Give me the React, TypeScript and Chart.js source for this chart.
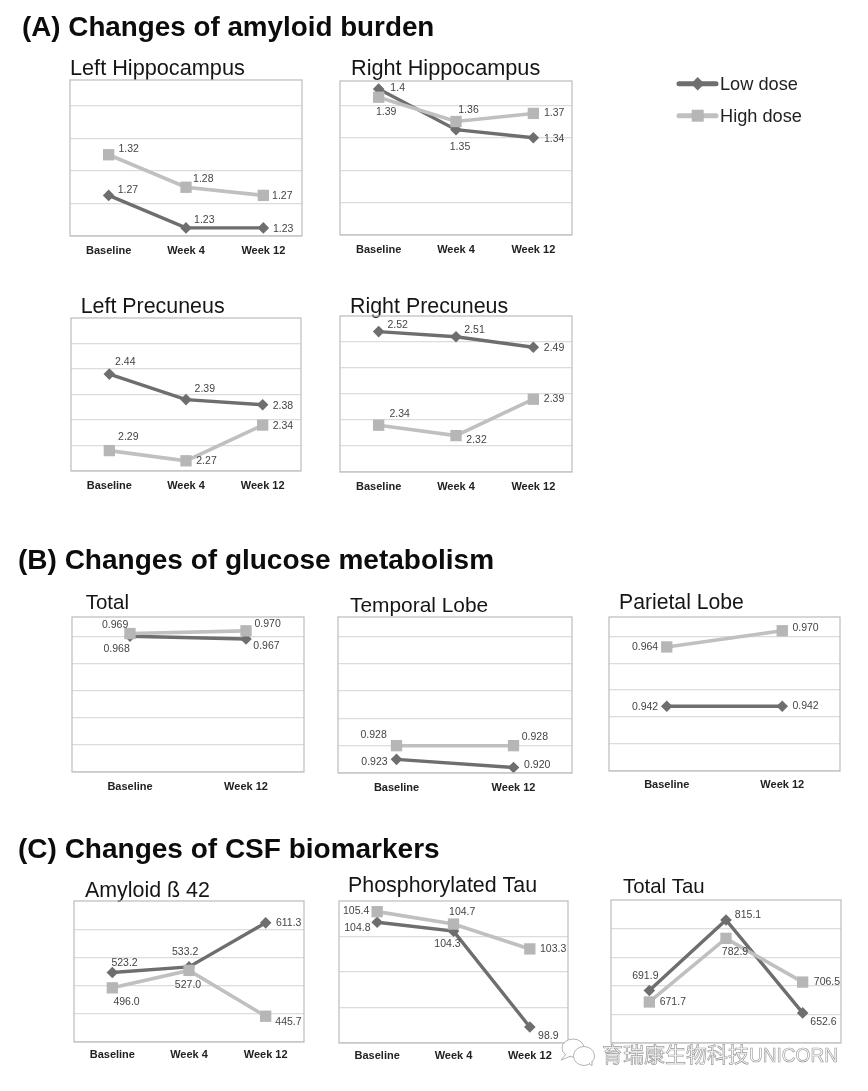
import React, { useEffect, useRef } from "react";
import { Chart, registerables } from "chart.js";

Chart.register(...registerables);

const threePoints = ["Baseline", "Week 4", "Week 12"];
const twoPoints = ["Baseline", "Week 12"];

const leftHippocampusLow = [1.27, 1.23, 1.23];
const leftHippocampusHigh = [1.32, 1.28, 1.27];
const rightHippocampusLow = [1.4, 1.35, 1.34];
const rightHippocampusHigh = [1.39, 1.36, 1.37];
const leftPrecuneusLow = [2.44, 2.39, 2.38];
const leftPrecuneusHigh = [2.29, 2.27, 2.34];
const rightPrecuneusLow = [2.52, 2.51, 2.49];
const rightPrecuneusHigh = [2.34, 2.32, 2.39];
const totalLow = [0.968, 0.967];
const totalHigh = [0.969, 0.97];
const temporalLow = [0.923, 0.92];
const temporalHigh = [0.928, 0.928];
const parietalLow = [0.942, 0.942];
const parietalHigh = [0.964, 0.97];
const amyloidLow = [523.2, 533.2, 611.3];
const amyloidHigh = [496.0, 527.0, 445.7];
const pTauLow = [104.8, 104.3, 98.9];
const pTauHigh = [105.4, 104.7, 103.3];
const tTauLow = [691.9, 815.1, 652.6];
const tTauHigh = [671.7, 782.9, 706.5];

const hippocampusTicks = [1.22, 1.26, 1.3, 1.34, 1.38];
const precuneusTicks = [2.25, 2.3, 2.35, 2.4, 2.45, 2.5];
const glucoseTicks = [0.918, 0.928, 0.938, 0.948, 0.958, 0.968];
const amyloidTicks = [400, 450, 500, 550, 600];
const pTauTicks = [98, 100, 102, 104];
const tTauTicks = [600, 650, 700, 750, 800];

const LOW = "#6e6e6e";
const HIGH = "#c0c0c0";
const FONT = '"Liberation Sans", Arial, sans-serif';
const PAD = 20;
const HEAD = 40;
const FOOT = 30;

type Offs = number[][];
type Panel = {
  title: string; cats: string[]; low: number[]; high: number[];
  digits: number; ticks: number[]; min: number; max: number; tickPad: number;
  rect: number[]; titlePos: number[]; lowOff: Offs; highOff: Offs;
};

const panels: Panel[] = [
  { title: "Left Hippocampus", cats: threePoints, low: leftHippocampusLow, high: leftHippocampusHigh, digits: 2, ticks: hippocampusTicks, min: 1.22, max: 1.412, tickPad: 8,
    rect: [70, 302, 80, 235.5], titlePos: [70, 75, 21.7],
    lowOff: [[19.3, -5.5], [18.3, -8], [19.8, 1]], highOff: [[20, -6], [17.3, -7.7], [19, 1]] },
  { title: "Right Hippocampus", cats: threePoints, low: rightHippocampusLow, high: rightHippocampusHigh, digits: 2, ticks: hippocampusTicks, min: 1.22, max: 1.41, tickPad: 8,
    rect: [339.7, 572.3, 81, 234.5], titlePos: [351, 74.5, 21.7],
    lowOff: [[19, -0.7], [4, 17.7], [20.8, 1]], highOff: [[7.5, 15.3], [12.5, -11.3], [20.8, 0]] },
  { title: "Left Precuneus", cats: threePoints, low: leftPrecuneusLow, high: leftPrecuneusHigh, digits: 2, ticks: precuneusTicks, min: 2.25, max: 2.55, tickPad: 8,
    rect: [70.7, 300.7, 317.7, 471.3], titlePos: [80.7, 313.3, 21.4],
    lowOff: [[16, -11.7], [18.8, -10], [20.2, 1]], highOff: [[19, -13.3], [20.5, 0.7], [20.2, 1]] },
  { title: "Right Precuneus", cats: threePoints, low: rightPrecuneusLow, high: rightPrecuneusHigh, digits: 2, ticks: precuneusTicks, min: 2.25, max: 2.55, tickPad: 8,
    rect: [340.3, 572, 316, 471.7], titlePos: [350, 313.3, 21.4],
    lowOff: [[19, -6.7], [18.5, -7], [20.7, 0.6]], highOff: [[21, -11], [20.5, 4.6], [20.7, 0.3]] },
  { title: "Total", cats: twoPoints, low: totalLow, high: totalHigh, digits: 3, ticks: glucoseTicks, min: 0.918, max: 0.9751, tickPad: 8,
    rect: [72, 303.7, 617, 772.3], titlePos: [85.7, 609.3, 20.5],
    lowOff: [[-13.4, 12.7], [20.5, 6.7]], highOff: [[-14.9, -8.4], [21.6, -6.4]] },
  { title: "Temporal Lobe", cats: twoPoints, low: temporalLow, high: temporalHigh, digits: 3, ticks: glucoseTicks, min: 0.918, max: 0.9751, tickPad: 8,
    rect: [338.3, 571.7, 617, 773.3], titlePos: [350, 611.7, 20.9],
    lowOff: [[-22, 2.3], [23.7, -2.7]], highOff: [[-22.9, -10.3], [21.4, -8.3]] },
  { title: "Parietal Lobe", cats: twoPoints, low: parietalLow, high: parietalHigh, digits: 3, ticks: glucoseTicks, min: 0.918, max: 0.9751, tickPad: 7.5,
    rect: [609.3, 840.3, 617, 771.3], titlePos: [619, 609, 21.2],
    lowOff: [[-21.7, 0.7], [23.3, -0.3]], highOff: [[-21.7, 0.3], [23.3, -2.3]] },
  { title: "Amyloid ß 42", cats: threePoints, low: amyloidLow, high: amyloidHigh, digits: 1, ticks: amyloidTicks, min: 400, max: 650, tickPad: 6.5,
    rect: [73.7, 303.7, 900.7, 1042], titlePos: [85, 896.7, 21.4],
    lowOff: [[12.2, -9.3], [-3.9, -14.4], [23, 0.6]], highOff: [[14.2, 14], [-1, 14.3], [22.8, 5.6]] },
  { title: "Phosphorylated Tau", cats: threePoints, low: pTauLow, high: pTauHigh, digits: 1, ticks: pTauTicks, min: 98, max: 106, tickPad: 6.5,
    rect: [338.7, 567.7, 900.7, 1042.7], titlePos: [348, 892.3, 21.4],
    lowOff: [[-19.8, 5.7], [-6, 13.3], [18.5, 8.7]], highOff: [[-21, -1], [8.7, -11.6], [23.3, 0]] },
  { title: "Total Tau", cats: threePoints, low: tTauLow, high: tTauHigh, digits: 1, ticks: tTauTicks, min: 600, max: 850, tickPad: 6.5,
    rect: [610.7, 841.3, 900.3, 1043.3], titlePos: [623, 892.7, 20.4],
    lowOff: [[-4, -14.3], [22, -4.7], [20.8, 9]], highOff: [[23.5, 0.3], [9, 14], [24.3, 0.3]] },
];

const headings = [
  { text: "(A) Changes of amyloid burden", x: 22, y: 36, size: 27.8 },
  { text: "(B) Changes of glucose metabolism", x: 18, y: 569, size: 28 },
  { text: "(C) Changes of CSF biomarkers", x: 18, y: 858, size: 28 },
];

function formatValue(v: number, digits: number) {
  if (v === 1.4) return "1.4";
  return v.toFixed(digits);
}

function PanelChart({ p }: { p: Panel }) {
  const ref = useRef<HTMLCanvasElement | null>(null);
  const [L, R, T, B] = p.rect;
  const cssLeft = Math.round(L) - PAD;
  const cssTop = Math.round(T) - HEAD;
  const w = Math.round(R) - Math.round(L) + PAD * 2;
  const h = Math.round(B) - Math.round(T) + HEAD + FOOT;

  useEffect(() => {
    const frame = {
      id: "frame",
      afterDraw(chart: any) {
        const { ctx, chartArea: a } = chart;
        ctx.save();
        ctx.strokeStyle = "#bcbcbc";
        ctx.lineWidth = 1.2;
        ctx.strokeRect(a.left, a.top, a.right - a.left, a.bottom - a.top);
        ctx.restore();
      },
      afterDatasetsDraw(chart: any) {
        const { ctx } = chart;
        ctx.save();
        ctx.font = `10.5px ${FONT}`;
        ctx.fillStyle = "#444";
        ctx.textAlign = "center";
        ctx.textBaseline = "middle";
        [p.high, p.low].forEach((vals, di) => {
          const meta = chart.getDatasetMeta(di);
          const offs = di === 0 ? p.highOff : p.lowOff;
          vals.forEach((v, i) => {
            const pt = meta.data[i];
            ctx.fillText(formatValue(v, p.digits), pt.x + offs[i][0], pt.y + offs[i][1]);
          });
        });
        ctx.font = `${p.titlePos[2]}px ${FONT}`;
        ctx.fillStyle = "#151515";
        ctx.textAlign = "left";
        ctx.textBaseline = "alphabetic";
        ctx.fillText(p.title, p.titlePos[0] - cssLeft, p.titlePos[1] - cssTop);
        ctx.restore();
      },
    };
    const chart = new Chart(ref.current as HTMLCanvasElement, {
      type: "line",
      data: {
        labels: p.cats,
        datasets: [
          { label: "High dose", data: p.high, borderColor: HIGH, backgroundColor: "#b6b6b6", borderWidth: 3.6,
            pointStyle: "rect", pointRadius: 8, pointBorderWidth: 0, order: 0, clip: false, tension: 0 },
          { label: "Low dose", data: p.low, borderColor: LOW, backgroundColor: LOW, borderWidth: 3.4,
            pointStyle: "rectRot", pointRadius: 5.8, pointBorderWidth: 0, order: 1, clip: false, tension: 0 },
        ],
      },
      options: {
        animation: false,
        responsive: false,
        layout: { padding: { left: PAD, right: PAD, top: HEAD, bottom: 0 } },
        plugins: { legend: { display: false }, tooltip: { enabled: false } },
        scales: {
          x: {
            offset: true,
            grid: { display: false, drawTicks: false },
            border: { display: false },
            afterFit(s: any) { s.height = FOOT; },
            ticks: { color: "#222", font: { family: FONT, size: 11, weight: "bold" }, padding: p.tickPad, maxRotation: 0, autoSkip: false },
          },
          y: {
            min: p.min,
            max: p.max,
            afterFit(s: any) { s.width = 0; },
            afterBuildTicks(s: any) { s.ticks = p.ticks.map((value) => ({ value })); },
            border: { display: false },
            grid: { color: "#dcdcdc", lineWidth: 1.2, drawTicks: false },
            ticks: { display: false },
          },
        },
      } as any,
      plugins: [frame],
    });
    return () => chart.destroy();
  }, []);

  return (
    <canvas
      ref={ref}
      width={w}
      height={h}
      style={{ position: "absolute", left: cssLeft, top: cssTop, width: w, height: h }}
    />
  );
}

function Overlay() {
  return (
    <svg width={868} height={1091} style={{ position: "absolute", left: 0, top: 0, pointerEvents: "none" }}>
      {headings.map((t) => (
        <text key={t.text} x={t.x} y={t.y} fontFamily={FONT} fontWeight="bold" fontSize={t.size} fill="#0c0c0c">{t.text}</text>
      ))}
      <line x1={679} y1={83.7} x2={716} y2={83.7} stroke={LOW} strokeWidth={5} strokeLinecap="round" />
      <polygon points="697.7,77 704.4,83.7 697.7,90.4 691,83.7" fill={LOW} />
      <text x={720} y={90} fontFamily={FONT} fontSize={18.2} fill="#222">Low dose</text>
      <line x1={679} y1={115.7} x2={716} y2={115.7} stroke={HIGH} strokeWidth={5} strokeLinecap="round" />
      <rect x={691.7} y={109.7} width={12} height={12} fill="#b6b6b6" />
      <text x={720} y={122} fontFamily={FONT} fontSize={18.2} fill="#222">High dose</text>

      <rect x={598} y={1044.5} width={250} height={26} fill="#fff" />
      <g fill="#fff" stroke="#aaa" strokeWidth={0.9}>
        <ellipse cx={573} cy={1048} rx={11} ry={9} />
        <path d="M566 1054 L561 1060 L571 1056" />
        <ellipse cx={584} cy={1056} rx={10.5} ry={9.5} />
        <path d="M589 1063 L592 1066 L592 1061" />
      </g>
      <text x={602} y={1062} fontFamily='"Noto Sans CJK SC"' fontSize={21} fill="#fff" stroke="#9a9a9a" strokeWidth={0.7}>育瑞康生物科技</text>
      <text x={749} y={1062} fontFamily={FONT} fontSize={21} fill="#fff" stroke="#9a9a9a" strokeWidth={0.7} textLength={89} lengthAdjust="spacingAndGlyphs">UNICORN</text>
    </svg>
  );
}

export default function App() {
  return (
    <div style={{ position: "absolute", left: 0, top: 0, width: 868, height: 1091, background: "#fff", overflow: "hidden", filter: "blur(0.35px)" }}>
      {panels.map((p) => (
        <PanelChart key={p.title} p={p} />
      ))}
      <Overlay />
    </div>
  );
}
